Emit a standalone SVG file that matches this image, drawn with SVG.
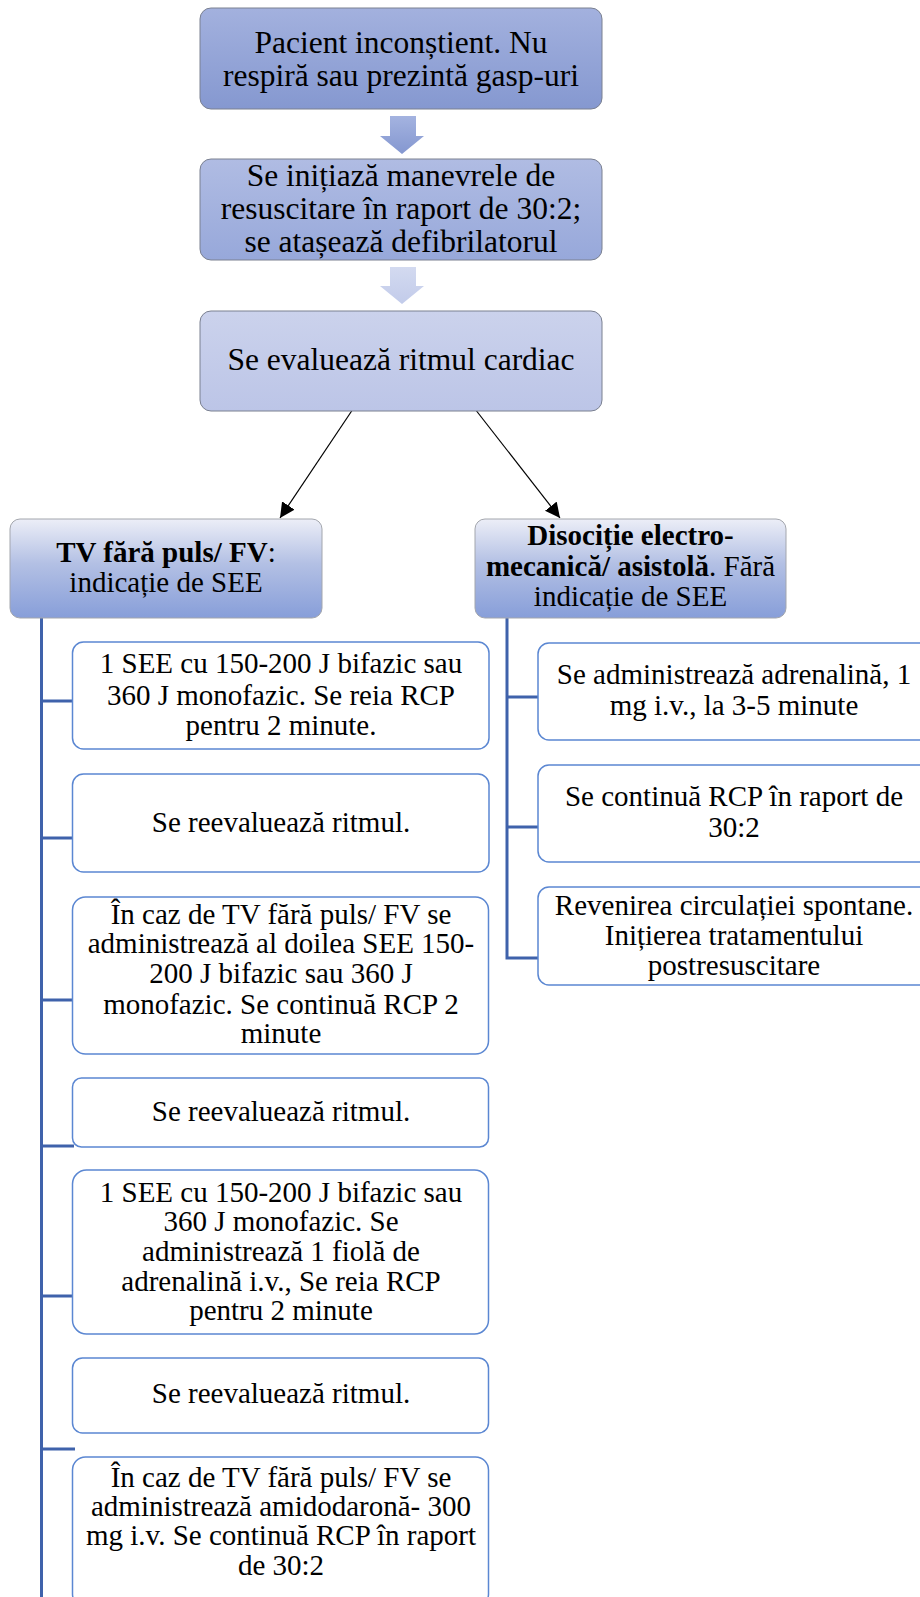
<svg xmlns="http://www.w3.org/2000/svg" width="920" height="1597" viewBox="0 0 920 1597">
  <defs>
    <linearGradient id="gStep1" x1="0" y1="0" x2="0" y2="1">
      <stop offset="0" stop-color="#a3b1de"/>
      <stop offset="1" stop-color="#8598d0"/>
    </linearGradient>
    <linearGradient id="gStep2" x1="0" y1="0" x2="0" y2="1">
      <stop offset="0" stop-color="#b0bce3"/>
      <stop offset="1" stop-color="#97a8da"/>
    </linearGradient>
    <linearGradient id="gStep3" x1="0" y1="0" x2="0" y2="1">
      <stop offset="0" stop-color="#cbd2ec"/>
      <stop offset="1" stop-color="#bcc5e7"/>
    </linearGradient>
    <linearGradient id="gArrow1" x1="0" y1="0" x2="0" y2="1">
      <stop offset="0" stop-color="#a4b3e0"/>
      <stop offset="1" stop-color="#8497d0"/>
    </linearGradient>
    <linearGradient id="gArrow2" x1="0" y1="0" x2="0" y2="1">
      <stop offset="0" stop-color="#d3daf0"/>
      <stop offset="1" stop-color="#c2cbea"/>
    </linearGradient>
    <linearGradient id="gBranch" x1="0" y1="0" x2="0" y2="1">
      <stop offset="0" stop-color="#eceef7"/>
      <stop offset="0.45" stop-color="#b3c0e4"/>
      <stop offset="1" stop-color="#879ed9"/>
    </linearGradient>
    <marker id="arrowHead" viewBox="0 0 10 10" refX="10" refY="5" markerWidth="15" markerHeight="15" markerUnits="userSpaceOnUse" orient="auto">
      <path d="M0,0 L10,5 L0,10 z" fill="#000"/>
    </marker>
    <style>
      text { font-family: "Liberation Serif", "Times New Roman", serif; fill: #000; text-anchor: middle; }
      .big { font-size: 31.5px; }
      .mid { font-size: 29px; }
      .b { font-weight: bold; }
      .step { stroke: #7a8090; stroke-width: 1; }
      .branch { fill: url(#gBranch); stroke: #a3a6ad; stroke-width: 1; }
      .child { fill: #fff; stroke: #5b87d2; stroke-width: 1.5; }
      .tree { stroke: #3f62ab; stroke-width: 3; fill: none; }
      .link { stroke: #000; stroke-width: 1.2; fill: none; marker-end: url(#arrowHead); }
    </style>
  </defs>

  <!-- connectors -->
  <g id="connectors">
    <path d="M390,116 h26 v20 h8 l-22,18 l-22,-18 h10 z" fill="url(#gArrow1)"/>
    <path d="M390,267 h26 v19 h8 l-22,18 l-22,-18 h10 z" fill="url(#gArrow2)"/>
    <line class="link" x1="353" y1="409" x2="280" y2="518"/>
    <line class="link" x1="475" y1="409" x2="560" y2="518"/>
    <path class="tree" d="M41.5,618 V1597 M40,701 H73 M40,838 H73 M40,1000 H73 M40,1146 H74 M40,1296 H73 M40,1449 H75"/>
    <path class="tree" d="M507,618 V958 M505.5,697 H538 M505.5,827 H538 M505.5,958 H538"/>
  </g>

  <!-- main sequence -->
  <g id="node-start">
    <rect class="step" x="200" y="8" width="402" height="101" rx="11" fill="url(#gStep1)"/>
    <text class="big" x="401" y="53">Pacient inconștient. Nu</text>
    <text class="big" x="401" y="86">respiră sau prezintă gasp-uri</text>
  </g>
  <g id="node-rcp">
    <rect class="step" x="200" y="159" width="402" height="101" rx="11" fill="url(#gStep2)"/>
    <text class="big" x="401" y="186">Se inițiază manevrele de</text>
    <text class="big" x="401" y="219">resuscitare în raport de 30:2;</text>
    <text class="big" x="401" y="252">se atașează defibrilatorul</text>
  </g>
  <g id="node-rhythm">
    <rect class="step" x="200" y="311" width="402" height="100" rx="11" fill="url(#gStep3)"/>
    <text class="big" x="401" y="370">Se evaluează ritmul cardiac</text>
  </g>

  <!-- shockable branch -->
  <g id="node-shockable">
    <rect class="branch" x="10" y="519" width="312" height="99" rx="10"/>
    <text class="mid" x="166" y="562"><tspan class="b">TV fără puls/ FV</tspan>:</text>
    <text class="mid" x="166" y="592">indicație de SEE</text>
  </g>
  <g id="node-shock1">
    <rect class="child" x="72.5" y="642" width="416.5" height="107" rx="11"/>
    <text class="mid" x="281" y="673">1 SEE cu 150-200 J bifazic sau</text>
    <text class="mid" x="281" y="705">360 J monofazic. Se reia RCP</text>
    <text class="mid" x="281" y="735">pentru 2 minute.</text>
  </g>
  <g id="node-check1">
    <rect class="child" x="72.5" y="774" width="416.5" height="98" rx="11"/>
    <text class="mid" x="281" y="832">Se reevaluează ritmul.</text>
  </g>
  <g id="node-shock2">
    <rect class="child" x="72.5" y="897" width="416" height="157" rx="13"/>
    <text class="mid" x="281" y="924">În caz de TV fără puls/ FV se</text>
    <text class="mid" x="281" y="953">administrează al doilea SEE 150-</text>
    <text class="mid" x="281" y="983">200 J bifazic sau 360 J</text>
    <text class="mid" x="281" y="1014">monofazic. Se continuă RCP 2</text>
    <text class="mid" x="281" y="1043">minute</text>
  </g>
  <g id="node-check2">
    <rect class="child" x="72.5" y="1078" width="416" height="69" rx="9"/>
    <text class="mid" x="281" y="1121">Se reevaluează ritmul.</text>
  </g>
  <g id="node-shock3">
    <rect class="child" x="72.5" y="1170" width="416" height="164" rx="14"/>
    <text class="mid" x="281" y="1202">1 SEE cu 150-200 J bifazic sau</text>
    <text class="mid" x="281" y="1231">360 J monofazic. Se</text>
    <text class="mid" x="281" y="1261">administrează 1 fiolă de</text>
    <text class="mid" x="281" y="1291">adrenalină i.v., Se reia RCP</text>
    <text class="mid" x="281" y="1320">pentru 2 minute</text>
  </g>
  <g id="node-check3">
    <rect class="child" x="72.5" y="1358" width="416" height="75" rx="10"/>
    <text class="mid" x="281" y="1403">Se reevaluează ritmul.</text>
  </g>
  <g id="node-amiodarone">
    <rect class="child" x="72.5" y="1457" width="416" height="150" rx="13"/>
    <text class="mid" x="281" y="1487">În caz de TV fără puls/ FV se</text>
    <text class="mid" x="281" y="1516">administrează amidodaronă- 300</text>
    <text class="mid" x="281" y="1545">mg i.v. Se continuă RCP în raport</text>
    <text class="mid" x="281" y="1575">de 30:2</text>
  </g>

  <!-- non-shockable branch -->
  <g id="node-nonshockable">
    <rect class="branch" x="475" y="519" width="311" height="99" rx="10"/>
    <text class="mid" x="630.5" y="545"><tspan class="b">Disociție electro-</tspan></text>
    <text class="mid" x="630.5" y="576"><tspan class="b">mecanică/ asistolă</tspan>. Fără</text>
    <text class="mid" x="630.5" y="606">indicație de SEE</text>
  </g>
  <g id="node-adrenaline">
    <rect class="child" x="538" y="643" width="400" height="97" rx="11"/>
    <text class="mid" x="734" y="684">Se administrează adrenalină, 1</text>
    <text class="mid" x="734" y="715">mg i.v., la 3-5 minute</text>
  </g>
  <g id="node-continue">
    <rect class="child" x="538" y="765" width="400" height="97" rx="11"/>
    <text class="mid" x="734" y="806">Se continuă RCP în raport de</text>
    <text class="mid" x="734" y="837">30:2</text>
  </g>
  <g id="node-rosc">
    <rect class="child" x="538" y="887" width="400" height="98" rx="11"/>
    <text class="mid" x="734" y="915">Revenirea circulației spontane.</text>
    <text class="mid" x="734" y="945">Inițierea tratamentului</text>
    <text class="mid" x="734" y="975">postresuscitare</text>
  </g>
</svg>
